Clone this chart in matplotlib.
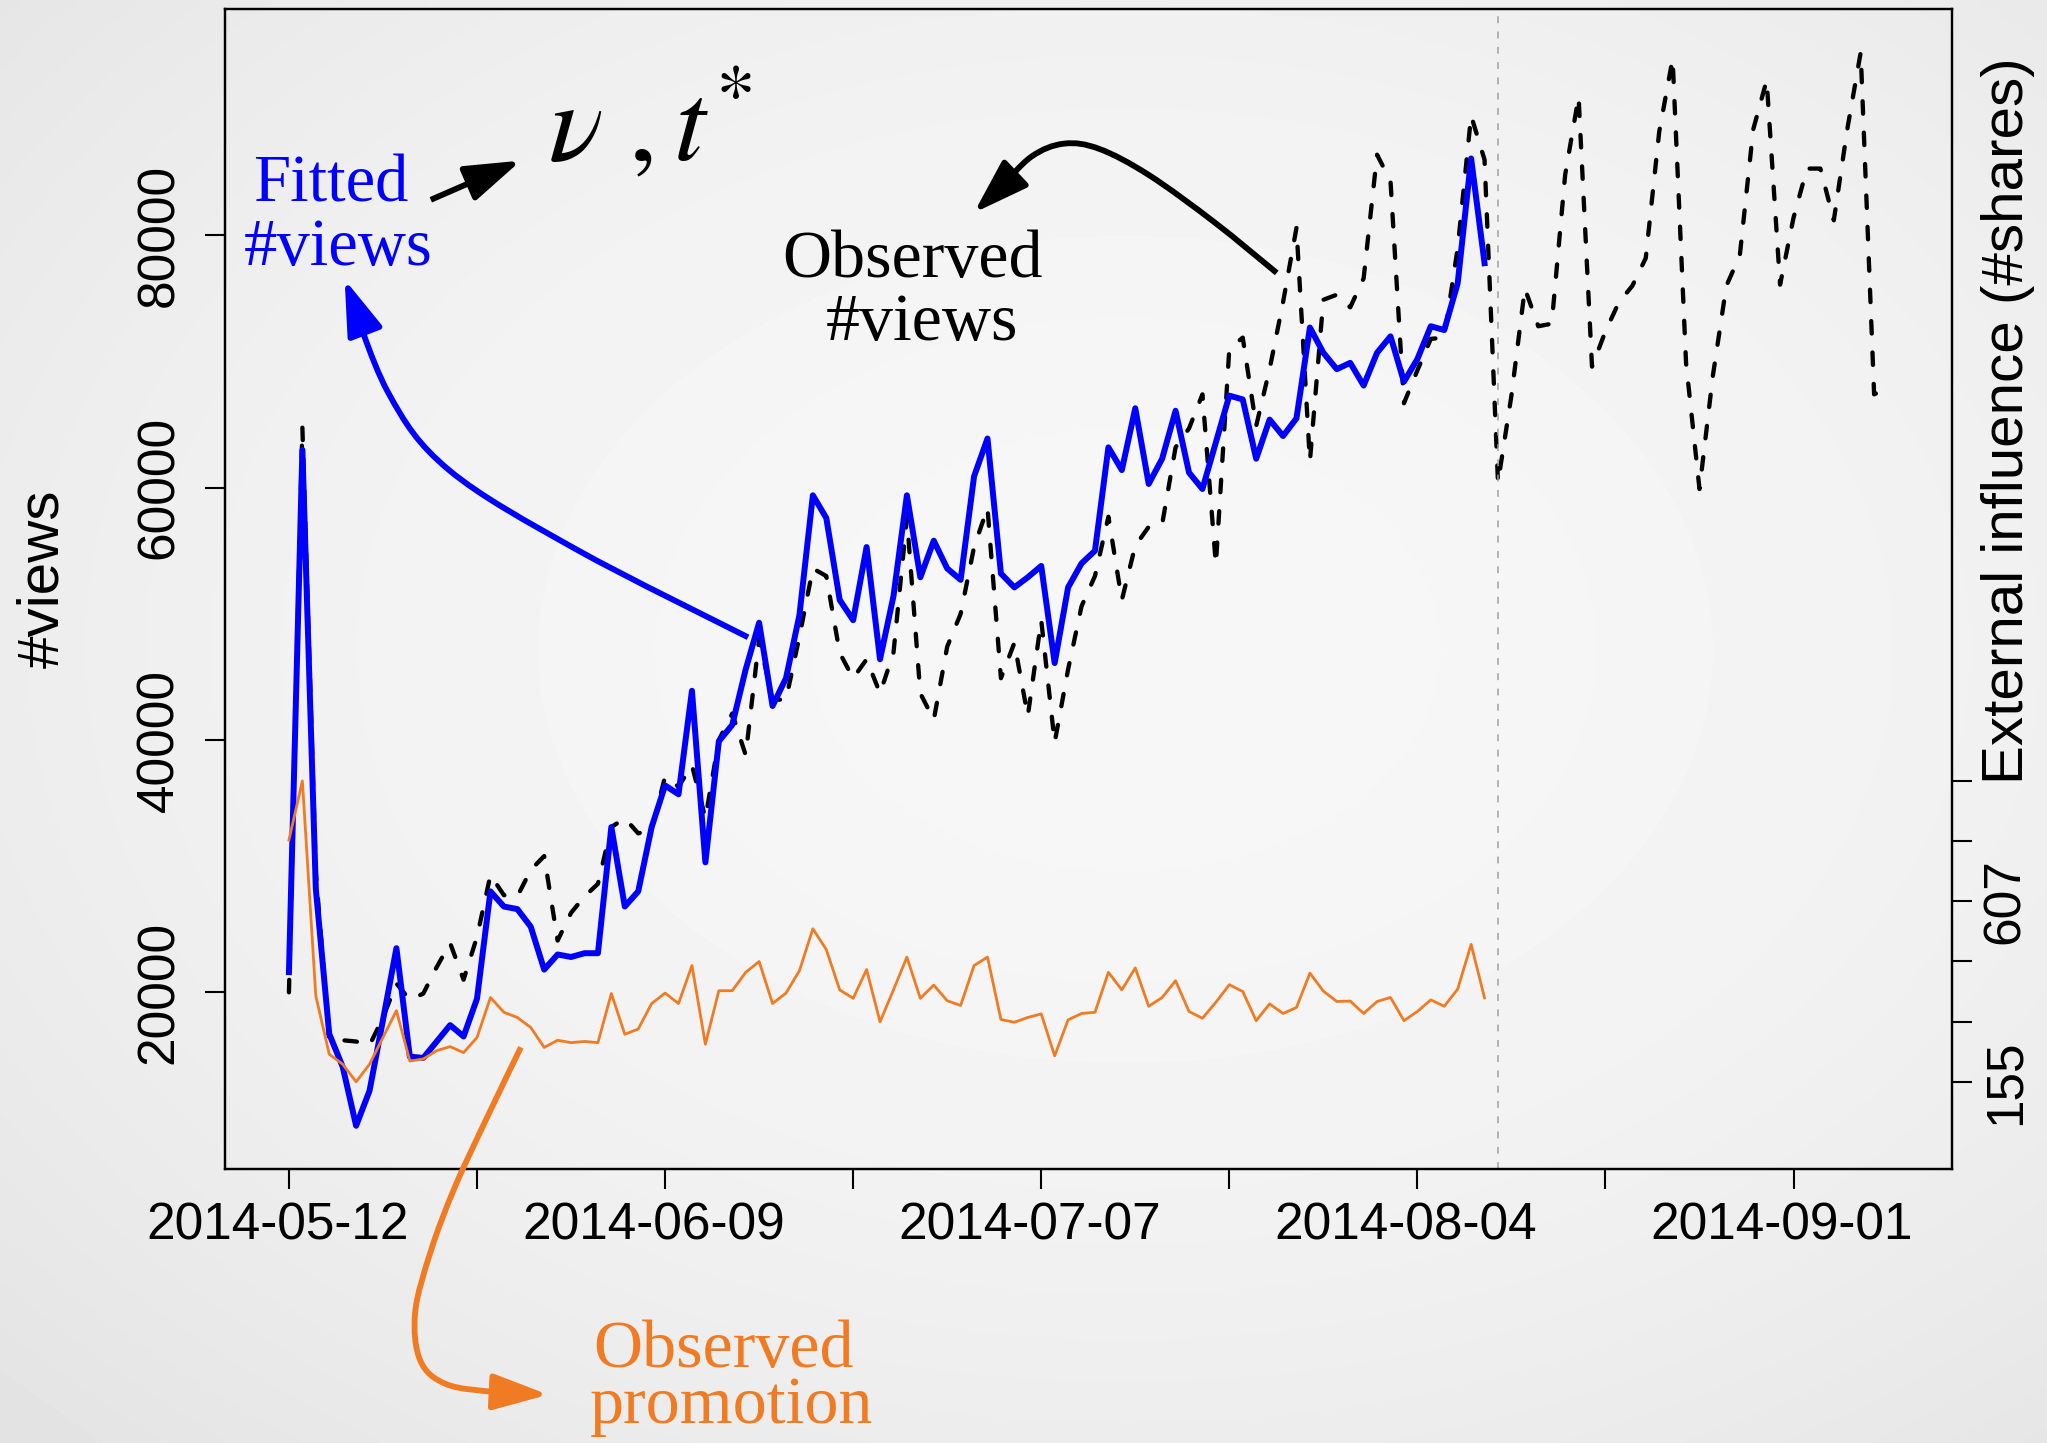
import numpy as np
import pandas as pd
import matplotlib
matplotlib.use('Agg')
import matplotlib.pyplot as plt
from matplotlib.path import Path
from matplotlib.patches import FancyArrowPatch
from matplotlib.transforms import ScaledTranslation

# ---- data ----
start_date = '2014-05-12'
split_day = 90  # end of fitting window

observed_views = [
    20000, 64800, 29500, 16200, 16200, 16100, 15800, 18000, 20700, 19400,
    19900, 22000, 23900, 21000, 24400, 29300, 27700, 27600, 29700, 30800,
    24100, 26300, 27600, 28600, 33100, 33800, 32600, 32900, 37100, 36300,
    38000, 33800, 40000, 42100, 38800, 48000, 43200, 43200, 48200, 53600,
    53000, 46900, 44900, 46400, 43700, 46900, 57600, 43700, 41600, 47400,
    50000, 55300, 58400, 44900, 47700, 41900, 49500, 39800, 45600, 50600,
    53000, 57700, 51100, 55400, 56900, 57100, 63200, 64700, 67400, 53900,
    71000, 71900, 64900, 69400, 74700, 80600, 62100, 74900, 75300, 74300,
    76600, 86400, 84300, 66700, 69300, 71800, 71900, 79000, 89500, 86000,
    60400, 67300, 75800, 72800, 73000, 84800, 91000, 69600, 72400, 74700,
    76000, 78200, 88200, 94000, 69900, 59900, 68900, 76000, 78400, 88400,
    92300, 76100, 81400, 85300, 85300, 81200, 88400, 94500, 67400, 67900,
]

fitted_views = [
    21600, 63000, 28200, 16700, 14100, 9420, 12200, 17800, 23500, 14900,
    14800, 16100, 17400, 16500, 19500, 28000, 26800, 26600, 25200, 21800,
    23000, 22800, 23100, 23100, 33100, 26800, 28000, 33100, 36400, 35700,
    43900, 30300, 39900, 41200, 45600, 49300, 42700, 44900, 49900, 59400,
    57600, 51100, 49500, 55300, 46400, 51400, 59400, 52900, 55800, 53600,
    52700, 60900, 63900, 53200, 52100, 52900, 53800, 46100, 52100, 54000,
    55000, 63200, 61400, 66300, 60300, 62300, 66100, 61200, 59900, 63600,
    67300, 67000, 62300, 65400, 64100, 65500, 72700, 70700, 69400, 69900,
    68100, 70700, 72000, 68400, 70200, 72800, 72500, 76200, 86100, 77800,
]

promotion_shares = [
    760, 908, 370, 224, 199, 155, 199, 266, 333, 207,
    212, 233, 243, 228, 266, 366, 329, 316, 291, 241,
    259, 253, 256, 253, 376, 274, 287, 351, 377, 351,
    446, 249, 383, 383, 429, 456, 351, 377, 433, 538,
    486, 385, 364, 436, 305, 385, 467, 364, 397, 358,
    346, 446, 467, 311, 304, 316, 325, 220, 310, 326,
    329, 429, 385, 440, 344, 366, 408, 331, 314, 354,
    398, 381, 308, 350, 326, 341, 427, 382, 356, 357,
    326, 356, 366, 308, 331, 360, 344, 387, 499, 365,
]

BLUE = '#0000ff'
ORANGE = '#f07b22'

plt.rcParams['font.family'] = ['Liberation Sans', 'DejaVu Sans']
plt.rcParams['mathtext.fontset'] = 'stix'

W, H = 2047, 1443
fig = plt.figure(figsize=(W / 100, H / 100), dpi=100)


def ref(x, y):
    # position measured on the 1568x1105 preview -> figure fraction
    return x / 1568, 1 - y / 1105


# soft grey radial background
gy, gx = np.mgrid[0:1:300j, 0:1:420j]
r2 = ((gx - 0.55) / 0.7) ** 2 + ((gy - 0.55) / 0.7) ** 2
bg = fig.add_axes([0, 0, 1, 1], zorder=-5)
bg.imshow(0.968 - 0.065 * r2, cmap='gray', vmin=0, vmax=1, origin='lower',
          extent=(0, 1, 0, 1), aspect='auto', interpolation='bicubic')
bg.axis('off')

ax = fig.add_axes([225 / W, 1 - 1169.3 / H, (1951.5 - 225) / W, (1169.3 - 9) / H])
ax.set_facecolor('none')

dates = pd.date_range(start_date, periods=len(observed_views), freq='D')
fit_dates = dates[:len(fitted_views)]

ax.plot(dates, observed_views, color='black', lw=3.1,
        linestyle=(0, (2.9, 4.4)), dash_capstyle='round')
ax.plot(fit_dates, fitted_views, color=BLUE, lw=4.3, solid_joinstyle='round')
ax.axvline(dates[split_day], color='#a0a0a0', lw=1.1, linestyle=(0, (4.5, 5.5)))

pad = pd.Timedelta(days=0.04 * (len(dates) - 1))
ax.set_xlim(dates[0] - pad, dates[-1] + pad)
ax.set_ylim(5970, 97950)

xt = dates[::14]
ax.set_xticks(xt)
ax.set_xticklabels([d.strftime('%Y-%m-%d') if i % 2 == 0 else '' for i, d in enumerate(xt)])
ax.set_yticks([20000, 40000, 60000, 80000])
ax.set_yticklabels(['20000', '40000', '60000', '80000'])

ax.tick_params(axis='both', direction='out', length=14.4, width=1.5, labelsize=37)
ax.tick_params(axis='x', pad=9)
ax.tick_params(axis='y', pad=15)
shift = ScaledTranslation(-0.115, 0, fig.dpi_scale_trans)
for lab in ax.get_xticklabels():
    lab.set_transform(lab.get_transform() + shift)
for lab in ax.get_yticklabels():
    lab.set_rotation(90)
    lab.set_va('center')
for s in ax.spines.values():
    s.set_linewidth(1.6)

ax2 = ax.twinx()
ax2.plot(fit_dates, promotion_shares, color=ORANGE, lw=2.0, solid_joinstyle='round')
ax2.set_ylim(-64, 2840)
share_ticks = np.linspace(min(promotion_shares), max(promotion_shares), 6)
ax2.set_yticks(share_ticks)
ax2.set_yticklabels([f'{v:.0f}' if i in (0, 3) else '' for i, v in enumerate(share_ticks)])
ax2.tick_params(axis='y', direction='out', length=14.4, width=1.5, labelsize=37, pad=7)
for lab in ax2.get_yticklabels():
    lab.set_rotation(90)
    lab.set_va('center')
for s in ax2.spines.values():
    s.set_linewidth(1.6)

# axis titles
fig.text(*ref(33, 443), '#views', rotation=90, fontsize=42, ha='center', va='center')
fig.text(*ref(1538, 322), 'External influence (#shares)', rotation=90,
         fontsize=42, ha='center', va='center')

# annotations
serif = ['Liberation Serif', 'DejaVu Serif']
fig.text(*ref(253, 154), 'Fitted', color=BLUE, fontsize=48, family=serif,
         ha='center', va='baseline')
fig.text(*ref(259, 203), '#views', color=BLUE, fontsize=48, family=serif,
         ha='center', va='baseline')
fig.text(*ref(699, 212), 'Observed', color='black', fontsize=49, family=serif,
         ha='center', va='baseline')
fig.text(*ref(706, 260), '#views', color='black', fontsize=49, family=serif,
         ha='center', va='baseline')
fig.text(*ref(554, 1047), 'Observed', color=ORANGE, fontsize=49, family=serif,
         ha='center', va='baseline')
fig.text(*ref(560, 1090), 'promotion', color=ORANGE, fontsize=49, family=serif,
         ha='center', va='baseline')
fig.text(*ref(420, 123), r'$\nu\ ,t^{*}$', fontsize=82, ha='left', va='baseline')


def smooth_path(pts):
    # Catmull-Rom through the points, as cubic Bezier segments
    p = np.array([ref(x, y) for x, y in pts])
    ext = np.vstack([p[0], p, p[-1]])
    verts = [p[0]]
    codes = [Path.MOVETO]
    for i in range(1, len(ext) - 2):
        c1 = ext[i] + (ext[i + 1] - ext[i - 1]) / 6
        c2 = ext[i + 1] - (ext[i + 2] - ext[i]) / 6
        verts += [c1, c2, ext[i + 1]]
        codes += [Path.CURVE4] * 3
    return Path(verts, codes)


def draw_arrow(pts, color):
    arr = FancyArrowPatch(path=smooth_path(pts), transform=fig.transFigure,
                          arrowstyle='-|>,head_length=0.55,head_width=0.18',
                          mutation_scale=62, color=color, lw=4.2,
                          joinstyle='round', capstyle='butt')
    fig.add_artist(arr)


draw_arrow([(330, 153), (399, 123)], 'black')
draw_arrow([(978, 209), (930, 170), (880, 134), (842, 114), (815, 110),
            (790, 120), (765, 145), (746, 163)], 'black')
draw_arrow([(573, 488), (442, 421), (344, 360), (297, 300), (264, 214)], BLUE)
draw_arrow([(399, 802), (372, 858), (348, 910), (330, 958), (318, 1005),
            (322, 1042), (342, 1060), (380, 1066), (420, 1068)], ORANGE)

fig.savefig('out.png', dpi=100)
